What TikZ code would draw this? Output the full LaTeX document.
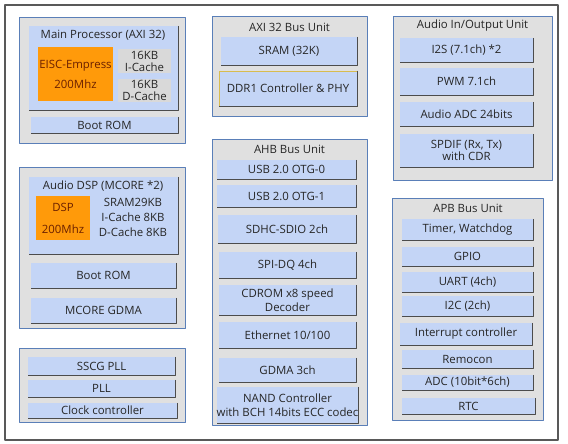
\documentclass[tikz,border=0pt]{standalone}
\usepackage{fontspec}
\setmainfont{Open Sans}
\definecolor{unitgray}{HTML}{E0E0E0}
\definecolor{unitblue}{HTML}{5A7FB8}
\definecolor{blkblue}{HTML}{C4D5F6}
\definecolor{coreorange}{HTML}{FF9A0A}
\definecolor{coretext}{HTML}{6B2000}
\definecolor{cachegray}{HTML}{D9D9D9}
\definecolor{ddrgold}{HTML}{D8BC50}
\definecolor{txt}{HTML}{262626}
\tikzset{
  unit/.style={draw=unitblue, fill=unitgray, line width=0.8pt, inner sep=0pt},
  blk/.style={fill=blkblue, inner sep=0pt, align=center, text=txt},
  core/.style={fill=coreorange, inner sep=0pt, align=center, text=coretext},
  cache/.style={fill=cachegray, inner sep=0pt, align=center, text=txt},
  ttl/.style={inner sep=0pt, text=txt},
  shadowline/.style={draw=gray!60!black, line width=1pt}
}
\begin{document}
\begin{tikzpicture}[x=1pt, y=-1pt, font=\fontsize{11.4}{13.5}\selectfont, line join=round]
    \useasboundingbox (0,0) rectangle (568,444);
    \draw[gray!70!black, line width=1.2pt] (5,5) rectangle (558,440);

    % unit frames
    \node[unit, minimum width=166, minimum height=126] (mainu) at (102,80) {};
    \node[unit, minimum width=166, minimum height=161] (dspu) at (102,247.5) {};
    \node[unit, minimum width=166, minimum height=74] (clku) at (102,385) {};
    \node[unit, minimum width=155, minimum height=100] (axiu) at (289.5,66) {};
    \node[unit, minimum width=155, minimum height=286] (ahbu) at (289.5,282) {};
    \node[unit, minimum width=159, minimum height=164] (audu) at (472.5,98) {};
    \node[unit, minimum width=151, minimum height=222] (apbu) at (467.5,309) {};

    % main processor
    \node[blk, minimum width=149, minimum height=84] (mainp) at (103.5,68) {};
    \node[ttl] (mainttl) at (103,35) {Main Processor (AXI 32)};
    \node[core, minimum width=75, minimum height=54] (eisc) at (75.5,74) {EISC-Empress\\[6.5pt]200Mhz};
    \node[cache, minimum width=53, minimum height=24] (icache) at (144.5,61) {16KB\\[-1.5pt]I-Cache};
    \node[cache, minimum width=53, minimum height=23] (dcache) at (144.5,90.5) {16KB\\[-1.5pt]D-Cache};
    \node[blk, minimum width=147, minimum height=16] (mboot) at (104.5,125) {Boot ROM};

    % audio dsp
    \node[blk, minimum width=149, minimum height=77] (dspp) at (103.5,215.5) {};
    \node[ttl] (dspttl) at (103,186) {Audio DSP (MCORE *2)};
    \node[core, minimum width=54, minimum height=44] (dsp) at (63,218) {DSP\\[8.5pt]200Mhz};
    \node[ttl, align=center] (dspmem) at (133,217) {SRAM29KB\\[1.5pt]I-Cache 8KB\\[1.5pt]D-Cache 8KB};
    \node[blk, minimum width=145, minimum height=25] (dboot) at (103.5,275.5) {Boot ROM};
    \node[blk, minimum width=145, minimum height=25] (mgdma) at (103.5,310.5) {MCORE GDMA};

    % clock
    \node[blk, minimum width=147, minimum height=18] (sscg) at (101.5,366) {SSCG PLL};
    \node[blk, minimum width=147, minimum height=17] (pll) at (101.5,388.5) {PLL};
    \node[blk, minimum width=149, minimum height=15] (clkc) at (102.5,410.5) {Clock controller};

    % axi 32
    \node[ttl] (axittl) at (289.5,27) {AXI 32 Bus Unit};
    \node[blk, minimum width=136, minimum height=28] (sram) at (289,51) {SRAM (32K)};
    \node[blk, draw=ddrgold, line width=0.8pt, minimum width=138, minimum height=35] (ddr) at (288,88.5) {DDR1 Controller \& PHY};

    % ahb
    \node[ttl] (ahbttl) at (289.5,149) {AHB Bus Unit};
    \node[blk, minimum width=139, minimum height=19] (usba) at (286.5,169.5) {USB 2.0 OTG-0};
    \node[blk, minimum width=139, minimum height=22] (usbb) at (286.5,196) {USB 2.0 OTG-1};
    \node[blk, minimum width=138, minimum height=28] (sdhc) at (287,229) {SDHC-SDIO 2ch};
    \node[blk, minimum width=137, minimum height=26] (spi) at (287.5,265) {SPI-DQ 4ch};
    \node[blk, minimum width=137, minimum height=30] (cdrom) at (287.5,300) {CDROM x8 speed\\[0pt]Decoder};
    \node[blk, minimum width=137, minimum height=26] (eth) at (287.5,335) {Ethernet 10/100};
    \node[blk, minimum width=137, minimum height=24] (gdma) at (287.5,370) {GDMA 3ch};
    \node[blk, minimum width=137, minimum height=36] (nand) at (287.5,405) {NAND Controller\\[0pt]with BCH 14bits ECC codec};

    % audio in/out
    \node[ttl] (audttl) at (472.5,26) {Audio In/Output Unit};
    \node[blk, minimum width=133, minimum height=24] (iis) at (466.5,50) {I2S (7.1ch) *2};
    \node[blk, minimum width=133, minimum height=27] (pwm) at (466.5,81.5) {PWM 7.1ch};
    \node[blk, minimum width=133, minimum height=24] (aadc) at (466.5,114) {Audio ADC 24bits};
    \node[blk, minimum width=133, minimum height=33] (spdif) at (466.5,150.5) {SPDIF (Rx, Tx)\\[-1pt]with CDR};

    % apb
    \node[ttl] (apbttl) at (468,208) {APB Bus Unit};
    \node[blk, minimum width=131, minimum height=21] (timer) at (467.5,229.5) {Timer, Watchdog};
    \node[blk, minimum width=131, minimum height=19] (gpio) at (467.5,256.5) {GPIO};
    \node[blk, minimum width=131, minimum height=20] (uart) at (467.5,282) {UART (4ch)};
    \node[blk, minimum width=131, minimum height=20] (iic) at (467.5,306) {I2C (2ch)};
    \node[blk, minimum width=132, minimum height=22] (intc) at (466,334) {Interrupt controller};
    \node[blk, minimum width=131, minimum height=18] (remo) at (467.5,359) {Remocon};
    \node[blk, minimum width=131, minimum height=15] (adc) at (467.5,382.5) {ADC (10bit*6ch)};
    \node[blk, minimum width=133, minimum height=16] (rtc) at (468.5,406) {RTC};

    % shadow edges
    \foreach \n in {mainp,mboot,dspp,dboot,mgdma,sscg,pll,clkc,sram,ddr,usba,usbb,sdhc,spi,cdrom,eth,gdma,nand,iis,pwm,aadc,spdif,timer,gpio,uart,iic,intc,remo,adc,rtc}
        \draw[shadowline] (\n.north east) -- (\n.south east) -- (\n.south west);
\end{tikzpicture}
\end{document}
